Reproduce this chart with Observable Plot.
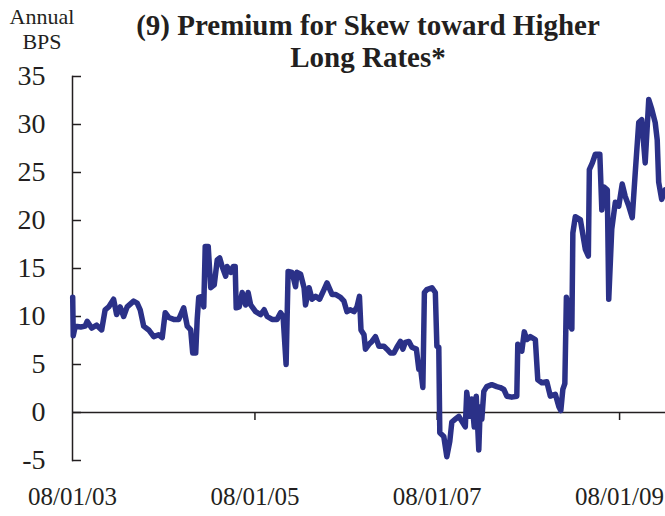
<!DOCTYPE html>
<html>
<head>
<meta charset="utf-8">
<script src="https://cdn.jsdelivr.net/npm/d3@7"></script>
<script src="https://cdn.jsdelivr.net/npm/@observablehq/plot@0.6"></script>
<style>
  html, body { margin: 0; padding: 0; background: #fff; }
  #wrap { position: relative; width: 665px; height: 516px; font-family: "Liberation Serif", "Times New Roman", serif; color: #231f20; }
  #title { position: absolute; left: 100px; width: 536px; top: 9px; text-align: center; font-weight: bold; font-size: 29px; line-height: 32px; }
  #unit { position: absolute; left: 0px; width: 84px; top: 4px; text-align: center; font-size: 22px; line-height: 25px; }
  #chart { position: absolute; left: 0; top: 0; }
</style>
</head>
<body>
<div id="wrap">
  <div id="chart"></div>
  <div id="unit">Annual<br>BPS</div>
  <div id="title">(9) Premium for Skew toward Higher<br>Long Rates*</div>
</div>
<script>
// Decimal years and annual basis points
const years = [
  2003.583, 2003.589, 2003.611, 2003.671, 2003.720, 2003.742, 2003.791, 2003.846, 2003.901, 2003.939,
  2003.978, 2004.032, 2004.065, 2004.104, 2004.142, 2004.180, 2004.251, 2004.290, 2004.323, 2004.361,
  2004.416, 2004.471, 2004.525, 2004.564, 2004.597, 2004.635, 2004.690, 2004.745, 2004.799, 2004.838,
  2004.876, 2004.898, 2004.931, 2004.947, 2004.964, 2005.002, 2005.019, 2005.035, 2005.068, 2005.095,
  2005.134, 2005.167, 2005.194, 2005.221, 2005.260, 2005.276, 2005.315, 2005.342, 2005.364, 2005.375,
  2005.408, 2005.441, 2005.479, 2005.506, 2005.534, 2005.588, 2005.643, 2005.682, 2005.715, 2005.769,
  2005.824, 2005.862, 2005.890, 2005.923, 2005.945, 2005.988, 2006.027, 2006.043, 2006.082, 2006.120,
  2006.136, 2006.175, 2006.208, 2006.246, 2006.290, 2006.339, 2006.372, 2006.427, 2006.465, 2006.520,
  2006.558, 2006.591, 2006.630, 2006.668, 2006.701, 2006.728, 2006.745, 2006.778, 2006.794, 2006.832,
  2006.865, 2006.904, 2006.942, 2006.997, 2007.030, 2007.068, 2007.106, 2007.139, 2007.178, 2007.205,
  2007.232, 2007.271, 2007.304, 2007.353, 2007.380, 2007.397, 2007.424, 2007.441, 2007.468, 2007.523,
  2007.561, 2007.578, 2007.599, 2007.610, 2007.654, 2007.687, 2007.720, 2007.742, 2007.780, 2007.819,
  2007.851, 2007.890, 2007.906, 2007.939, 2007.961, 2007.988, 2008.010, 2008.038, 2008.054, 2008.071,
  2008.093, 2008.125, 2008.180, 2008.235, 2008.273, 2008.312, 2008.345, 2008.399, 2008.454, 2008.465,
  2008.509, 2008.536, 2008.564, 2008.602, 2008.657, 2008.684, 2008.728, 2008.783, 2008.821, 2008.876,
  2008.915, 2008.936, 2008.958, 2008.980, 2008.997, 2009.019, 2009.041, 2009.057, 2009.068, 2009.095,
  2009.150, 2009.205, 2009.238, 2009.249, 2009.282, 2009.315, 2009.364, 2009.386, 2009.408, 2009.446,
  2009.462, 2009.495, 2009.534, 2009.572, 2009.610, 2009.643, 2009.682, 2009.720, 2009.753, 2009.791,
  2009.824, 2009.862, 2009.901, 2009.934, 2009.972, 2009.994, 2010.010, 2010.043, 2010.081
];
const premium = [
  12.0, 8.0, 9.0, 8.9, 9.0, 9.5, 8.8, 9.1, 8.6, 10.7,
  11.0, 11.8, 10.2, 11.0, 10.0, 11.0, 11.6, 11.4, 10.7, 9.0,
  8.6, 7.9, 8.1, 7.8, 10.4, 9.9, 9.7, 9.7, 10.9, 9.0,
  8.6, 6.2, 6.2, 9.7, 12.0, 12.1, 11.0, 17.3, 17.3, 13.0,
  13.3, 15.9, 16.1, 15.2, 14.2, 15.2, 14.6, 15.2, 15.2, 10.9,
  11.0, 12.5, 11.2, 12.5, 11.2, 10.5, 10.2, 10.7, 10.0, 9.7,
  9.7, 10.4, 10.0, 5.0, 14.7, 14.6, 13.1, 14.6, 14.4, 13.0,
  11.2, 13.0, 11.8, 12.1, 11.8, 12.8, 13.5, 12.3, 12.3, 12.0,
  11.6, 10.5, 10.7, 10.5, 11.0, 12.1, 8.6, 8.1, 6.6, 7.1,
  7.4, 7.9, 6.9, 6.9, 6.6, 6.2, 6.2, 6.8, 7.4, 6.6,
  7.3, 7.4, 6.8, 6.6, 4.5, 4.8, 2.6, 12.5, 12.8, 13.0,
  12.5, 6.9, 6.8, -2.1, -2.5, -4.6, -3.0, -1.0, -0.7, -0.4,
  -0.9, -1.5, 2.1, -0.4, 1.4, -1.5, 1.7, -3.9, 0.6, -0.7,
  2.2, 2.7, 2.9, 2.7, 2.6, 2.4, 1.7, 1.6, 1.7, 7.1,
  6.4, 8.4, 7.6, 7.9, 7.6, 3.4, 3.1, 3.2, 1.7, 1.9,
  0.6, 0.2, 2.4, 3.0, 12.0, 11.0, 9.0, 8.7, 18.7, 20.4,
  20.1, 17.0, 16.3, 25.3, 26.0, 26.9, 26.9, 21.1, 23.5, 23.2,
  11.8, 19.1, 21.9, 21.5, 23.8, 22.5, 21.5, 20.3, 25.0, 30.2,
  30.5, 26.0, 32.6, 31.6, 30.2, 28.4, 24.0, 22.2, 23.2
];
const xTickDates = ["2003-08-01", "2005-08-01", "2007-08-01", "2009-08-01"];
const yTicks = [-5, 0, 5, 10, 15, 20, 25, 30, 35];
const xDomain = ["2003-08-01", "2010-02-01"];

function toDate(y) {
  const yr = Math.floor(y);
  const start = Date.UTC(yr, 0, 1), end = Date.UTC(yr + 1, 0, 1);
  return new Date(start + (y - yr) * (end - start));
}
const data = years.map((y, i) => ({date: toDate(y), value: premium[i]}));
const xt = xTickDates.map(d => new Date(d));
const x0 = new Date(xDomain[0]);

const chart = Plot.plot({
  width: 665,
  height: 516,
  marginLeft: 72,
  marginRight: 0,
  marginTop: 76,
  marginBottom: 56,
  style: {fontFamily: "'Liberation Serif', 'Times New Roman', serif", fontSize: "24px", color: "#231f20", background: "#fff"},
  x: {type: "utc", domain: xDomain.map(d => new Date(d))},
  y: {domain: [-5, 35]},
  marks: [
    Plot.frame({anchor: "left", stroke: "#231f20", strokeWidth: 1.5}),
    Plot.ruleY([0], {stroke: "#231f20", strokeWidth: 1.5}),
    Plot.ruleY(yTicks, {x1: x0, x2: x0, insetRight: -9, stroke: "#231f20", strokeWidth: 1.5}),
    Plot.ruleX(xt.slice(1), {y1: 0, y2: 0, insetBottom: -8, stroke: "#231f20", strokeWidth: 1.5}),
    Plot.axisY({ticks: yTicks, tickSize: 0, tickPadding: 27, label: null, fontSize: 28, tickFormat: d => String(d)}),
    Plot.axisX({ticks: xt, tickSize: 0, tickPadding: 27, label: null, fontSize: 25, tickFormat: d3.utcFormat("%m/%d/%y")}),
    Plot.line(data, {x: "date", y: "value", stroke: "#2b3188", strokeWidth: 5.5, strokeLinejoin: "round", strokeLinecap: "round"})
  ]
});
document.getElementById("chart").appendChild(chart);
</script>
</body>
</html>
